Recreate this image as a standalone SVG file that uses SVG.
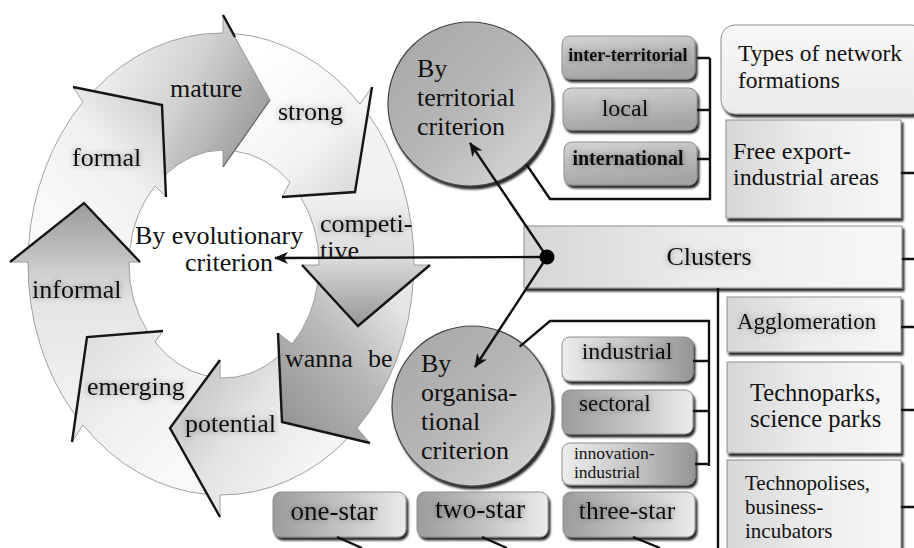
<svg xmlns="http://www.w3.org/2000/svg" width="914" height="548" viewBox="0 0 914 548">
<defs>
<style>
text{fill:#111}
.ff{font-family:Liberation Serif,Tinos,Times New Roman,serif}
.lb{font-size:26px}
.gl{filter:url(#glow)}
.seg{stroke:#8c8c8c;stroke-width:0.8;stroke-linejoin:round}
.edge{fill:none;stroke:#141414;stroke-width:2.4;stroke-linejoin:miter;filter:url(#soft)}
.con{fill:none;stroke:#111;stroke-width:2.4}
.box{stroke:#8f8f8f;stroke-width:1;filter:url(#sh)}
.b{font-weight:bold}
</style>
<filter id="glow" x="-25%" y="-50%" width="150%" height="200%">
<feGaussianBlur in="SourceAlpha" stdDeviation="3"/>
<feComponentTransfer><feFuncA type="linear" slope="0.4"/></feComponentTransfer>
<feMerge><feMergeNode/><feMergeNode in="SourceGraphic"/></feMerge>
</filter>
<filter id="sh" x="-10%" y="-10%" width="125%" height="135%">
<feGaussianBlur in="SourceAlpha" stdDeviation="0.9"/>
<feOffset dx="2" dy="2.5"/>
<feComponentTransfer><feFuncA type="linear" slope="0.85"/></feComponentTransfer>
<feMerge><feMergeNode/><feMergeNode in="SourceGraphic"/></feMerge>
</filter>
<filter id="soft" filterUnits="userSpaceOnUse" x="0" y="0" width="914" height="548">
<feGaussianBlur stdDeviation="0.6"/>
</filter>
<marker id="ah" viewBox="0 -6 14 12" refX="13" refY="0" markerWidth="14" markerHeight="12" markerUnits="userSpaceOnUse" orient="auto">
<path d="M0,-6 L14,0 L0,6 L4,0 Z" fill="#111"/>
</marker>
<linearGradient id="gInf" gradientUnits="userSpaceOnUse" x1="0" y1="203" x2="0" y2="420">
<stop offset="0" stop-color="#9a9a9a"/><stop offset="0.27" stop-color="#c6c6c6"/><stop offset="0.45" stop-color="#e4e4e4"/><stop offset="1" stop-color="#f4f4f4"/>
</linearGradient>
<linearGradient id="gForm" gradientUnits="userSpaceOnUse" x1="60" y1="210" x2="170" y2="110">
<stop offset="0" stop-color="#f8f8f8"/><stop offset="0.5" stop-color="#f0f0f0"/><stop offset="1" stop-color="#cdcdcd"/>
</linearGradient>
<linearGradient id="gMat" gradientUnits="userSpaceOnUse" x1="110" y1="60" x2="265" y2="140">
<stop offset="0" stop-color="#eeeeee"/><stop offset="0.45" stop-color="#d2d2d2"/><stop offset="1" stop-color="#979797"/>
</linearGradient>
<linearGradient id="gStr" gradientUnits="userSpaceOnUse" x1="250" y1="60" x2="365" y2="195">
<stop offset="0" stop-color="#ffffff"/><stop offset="0.6" stop-color="#f3f3f3"/><stop offset="1" stop-color="#d6d6d6"/>
</linearGradient>
<linearGradient id="gComp" gradientUnits="userSpaceOnUse" x1="0" y1="190" x2="0" y2="325">
<stop offset="0" stop-color="#f2f2f2"/><stop offset="0.5" stop-color="#dcdcdc"/><stop offset="1" stop-color="#979797"/>
</linearGradient>
<linearGradient id="gWan" gradientUnits="userSpaceOnUse" x1="285" y1="420" x2="405" y2="310">
<stop offset="0" stop-color="#959595"/><stop offset="0.55" stop-color="#b9b9b9"/><stop offset="1" stop-color="#e6e6e6"/>
</linearGradient>
<linearGradient id="gPot" gradientUnits="userSpaceOnUse" x1="175" y1="390" x2="300" y2="480">
<stop offset="0" stop-color="#c2c2c2"/><stop offset="0.5" stop-color="#e4e4e4"/><stop offset="1" stop-color="#f4f4f4"/>
</linearGradient>
<linearGradient id="gEmg" gradientUnits="userSpaceOnUse" x1="85" y1="340" x2="190" y2="450">
<stop offset="0" stop-color="#dedede"/><stop offset="0.5" stop-color="#efefef"/><stop offset="1" stop-color="#f8f8f8"/>
</linearGradient>
<linearGradient id="gPillV" x1="0" y1="0" x2="0.3" y2="1">
<stop offset="0" stop-color="#d4d4d4"/><stop offset="1" stop-color="#a4a4a4"/>
</linearGradient>
<linearGradient id="gPillLD" x1="0" y1="0" x2="1" y2="0">
<stop offset="0" stop-color="#ececec"/><stop offset="0.55" stop-color="#c4c4c4"/><stop offset="1" stop-color="#959595"/>
</linearGradient>
<linearGradient id="gPillDL" x1="0" y1="0" x2="1" y2="0">
<stop offset="0" stop-color="#9c9c9c"/><stop offset="0.5" stop-color="#c2c2c2"/><stop offset="1" stop-color="#ebebeb"/>
</linearGradient>
<linearGradient id="gCirc" x1="0" y1="0" x2="1" y2="1">
<stop offset="0" stop-color="#a6a6a6"/><stop offset="0.5" stop-color="#b6b6b6"/><stop offset="1" stop-color="#dcdcdc"/>
</linearGradient>
<linearGradient id="gBox" x1="0" y1="0" x2="1" y2="0">
<stop offset="0" stop-color="#d6d6d6"/><stop offset="0.45" stop-color="#ebebeb"/><stop offset="1" stop-color="#f8f8f8"/>
</linearGradient>
<linearGradient id="gTypes" x1="0" y1="0" x2="0" y2="1">
<stop offset="0" stop-color="#f8f8f8"/><stop offset="1" stop-color="#ebebeb"/>
</linearGradient>
</defs>
<rect width="914" height="548" fill="#ffffff"/>

<g id="ring">
<g id="n-informal">
<path class="seg" fill="url(#gInf)" d="M75.7,416 L87,337 L148,332.2 A95,114 0 0 1 129,262 L140,262 L84,203 L10,262 L28,262 A193,231 0 0 0 75.7,416 Z"/>
<text class="ff lb gl" x="32" y="298">informal</text>
</g>
<g id="n-formal">
<path class="seg" fill="url(#gForm)" d="M28.5,247 L84,203 L129.5,251 A95,114 0 0 1 155,186 L166,197 L162,105 L73,87 L83,102 A193,231 0 0 0 28.5,247 Z"/>
<text class="ff lb gl" x="72" y="166">formal</text>
</g>
<g id="n-mature">
<path class="seg" fill="url(#gMat)" d="M93.5,91 L162,105 L165,175 A95,114 0 0 1 223,150 L223,167 L270,100 L223,15 L223,33 A193,231 0 0 0 93.5,91 Z"/>
<text class="ff lb" x="170" y="97">mature</text>
</g>
<g id="n-strong">
<path class="seg" fill="url(#gStr)" d="M233,33.5 L270,100 L234.5,151 A95,114 0 0 1 290,182 L282,197 L355,192 L372,87 L360,104 A193,231 0 0 0 233,33.5 Z"/>
<text class="ff lb gl" x="278" y="120">strong</text>
</g>
<g id="n-competitive">
<path class="seg" fill="url(#gComp)" d="M367.8,113.5 L355,192 L300,196 A95,114 0 0 1 319,265 L302,265 L358,326 L430,265 L414,265 A193,231 0 0 0 367.8,113.5 Z"/>
<text class="ff lb gl" x="320" y="232">competi-</text>
<text class="ff lb" x="320" y="259">tive</text>
</g>
<g id="n-wannabe">
<path class="seg" fill="url(#gWan)" d="M413.4,279 L358,326 L317.8,282.2 A95,114 0 0 1 292,344 L278,333 L282,422 L370,443 L357,428 A193,231 0 0 0 413.4,279 Z"/>
<text class="ff lb" x="285" y="367">wanna <tspan x="368">be</tspan></text>
</g>
<g id="n-potential">
<path class="seg" fill="url(#gPot)" d="M348,438 L282,422 L279,356 A95,114 0 0 1 220,378 L220,360 L170,428 L220,517 L220,495 A193,231 0 0 0 348,438 Z"/>
<text class="ff lb gl" x="185" y="432">potential</text>
</g>
<g id="n-emerging">
<path class="seg" fill="url(#gEmg)" d="M207.3,494.4 L170,428 L208,376.3 A95,114 0 0 1 155,342 L163,331 L87,337 L72,442 L83,425 A193,231 0 0 0 207.3,494.4 Z"/>
<text class="ff lb gl" x="87" y="395">emerging</text>
</g>
<g id="ring-edges">
<path class="edge" d="M10,262 L84,203 L140,262"/>
<path class="edge" d="M73,87 L162,105 L166,197"/>
<path class="edge" d="M223,15 L235,37"/>
<path fill="none" stroke="#666" stroke-width="1.2" d="M270,100 L223,167"/>
<path class="edge" d="M372,87 L355,192 L282,197"/>
<path class="edge" d="M302,265 L358,326 L430,265"/>
<path class="edge" d="M278,333 L282,422 L370,443"/>
<path class="edge" d="M220,360 L170,428 L220,517"/>
<path class="edge" d="M163,331 L87,337 L72,442"/>
</g>
</g>

<g id="n-evolutionary">
<text class="ff lb" x="135" y="244">By evolutionary</text>
<text class="ff lb" x="185" y="271">criterion</text>
</g>

<g id="n-territorial">
<circle cx="470" cy="104" r="82" fill="url(#gCirc)" stroke="#444" stroke-width="1.2" filter="url(#sh)"/>
<text class="ff lb" x="417" y="77">By</text>
<text class="ff lb" x="417" y="106">territorial</text>
<text class="ff lb" x="417" y="135">criterion</text>
</g>

<g id="n-organisational">
<circle cx="472" cy="406" r="80" fill="url(#gCirc)" stroke="#444" stroke-width="1.2" filter="url(#sh)"/>
<text class="ff lb" x="421" y="372">By</text>
<text class="ff lb" x="421" y="401">organisa-</text>
<text class="ff lb" x="421" y="430">tional</text>
<text class="ff lb" x="421" y="459">criterion</text>
</g>

<g id="n-interterritorial">
<rect class="box" x="562" y="36" width="133" height="43" rx="8" fill="url(#gPillV)"/>
<text class="ff b gl" x="628" y="61" font-size="18" text-anchor="middle">inter-territorial</text>
</g>
<g id="n-local">
<rect class="box" x="563" y="88" width="134" height="42" rx="8" fill="url(#gPillV)"/>
<text class="ff gl" x="625" y="116" font-size="24" text-anchor="middle">local</text>
</g>
<g id="n-international">
<rect class="box" x="564" y="142" width="133" height="43" rx="8" fill="url(#gPillV)"/>
<text class="ff b gl" x="628" y="165" font-size="20" text-anchor="middle">international</text>
</g>

<g id="n-types">
<rect class="box" x="721" y="25" width="205" height="89" rx="14" fill="url(#gTypes)"/>
<text class="ff" x="738" y="61" font-size="23.5">Types of network</text>
<text class="ff" x="738" y="88" font-size="23.5">formations</text>
</g>
<g id="n-freeexport">
<rect class="box" x="726" y="120" width="175" height="98" fill="url(#gBox)"/>
<text class="ff" x="733" y="159" font-size="24">Free export-</text>
<text class="ff" x="733" y="185" font-size="24">industrial areas</text>
</g>
<g id="n-clusters">
<rect class="box" x="524" y="226" width="378" height="62" fill="url(#gBox)"/>
<text class="ff lb gl" x="709" y="265" text-anchor="middle">Clusters</text>
</g>
<g id="n-agglomeration">
<rect class="box" x="727" y="297" width="174" height="55" fill="url(#gBox)"/>
<text class="ff gl" x="737" y="329" font-size="23">Agglomeration</text>
</g>
<g id="n-technoparks">
<rect class="box" x="727" y="362" width="174" height="91" fill="url(#gBox)"/>
<text class="ff" x="750" y="401" font-size="24.5">Technoparks,</text>
<text class="ff" x="750" y="427" font-size="24.5">science parks</text>
</g>
<g id="n-technopolises">
<rect class="box" x="727" y="460" width="174" height="100" fill="url(#gBox)"/>
<text class="ff" x="745" y="490" font-size="21">Technopolises,</text>
<text class="ff" x="745" y="514" font-size="21">business-</text>
<text class="ff" x="745" y="538" font-size="21">incubators</text>
</g>

<g id="n-industrial">
<rect class="box" x="562" y="337" width="131" height="44" rx="8" fill="url(#gPillLD)"/>
<text class="ff gl" x="627" y="359" font-size="24" text-anchor="middle">industrial</text>
</g>
<g id="n-sectoral">
<rect class="box" x="562" y="390" width="131" height="44" rx="8" fill="url(#gPillDL)"/>
<text class="ff gl" x="579" y="411" font-size="23">sectoral</text>
</g>
<g id="n-innovation">
<rect class="box" x="562" y="443" width="133" height="42" rx="8" fill="url(#gPillLD)"/>
<text class="ff" x="574" y="459" font-size="17.5">innovation-</text>
<text class="ff" x="574" y="478" font-size="17.5">industrial</text>
</g>

<g id="n-onestar">
<rect class="box" x="273" y="492" width="133" height="45" rx="8" fill="url(#gPillDL)"/>
<text class="ff gl" x="334" y="520" font-size="27" text-anchor="middle">one-star</text>
</g>
<g id="n-twostar">
<rect class="box" x="417" y="492" width="131" height="45" rx="8" fill="url(#gPillDL)"/>
<text class="ff gl" x="480" y="518" font-size="27.5" text-anchor="middle">two-star</text>
</g>
<g id="n-threestar">
<rect class="box" x="563" y="492" width="132" height="45" rx="8" fill="url(#gPillDL)"/>
<text class="ff gl" x="627" y="519" font-size="25.5" text-anchor="middle">three-star</text>
</g>

<g id="connectors">
<path class="con" d="M697,58 H710 M697,110 H710 M697,159 H710 M710,58 V199 H550 L526.5,164.5"/>
<path class="con" d="M693,361 H709 M693,411 H709 M695,464 H709 M709,466 V321 H550 L519.6,346.6"/>
<path class="con" d="M901,173 H914 M902,259 H914 M901,327 H914 M901,410 H914 M901,507 H914"/>
<path class="con" d="M718,288 V548"/>
<path class="con" d="M337,537 L362,548 M482,537 L507,548 M633,537 L660,548"/>
<line class="con" x1="547" y1="257" x2="275" y2="258" marker-end="url(#ah)"/>
<line class="con" x1="547" y1="257" x2="470" y2="143" marker-end="url(#ah)"/>
<line class="con" x1="547" y1="257" x2="475" y2="367" marker-end="url(#ah)"/>
<circle cx="547" cy="257" r="7.5" fill="#000"/>
</g>
</svg>
